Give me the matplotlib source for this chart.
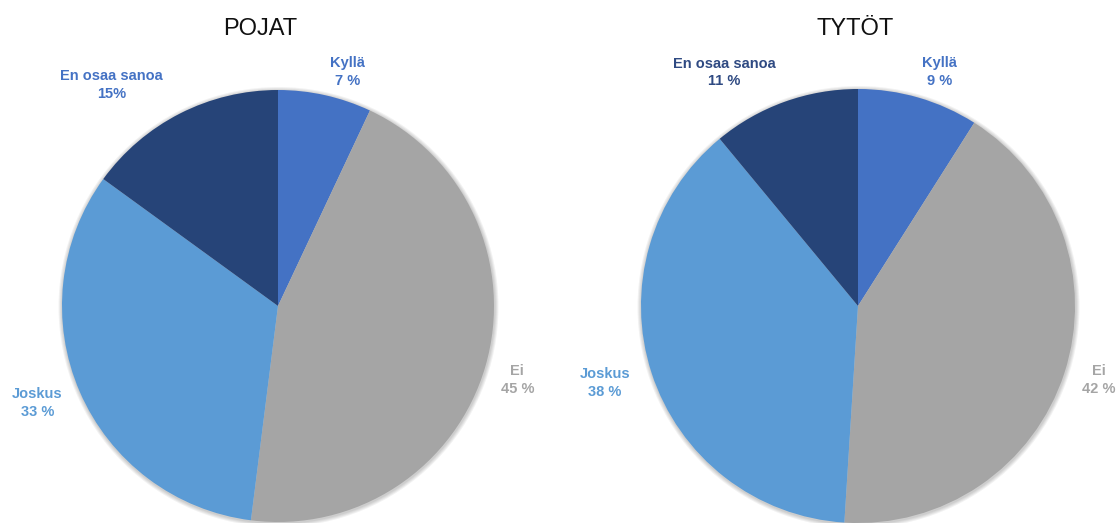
import numpy as np
import matplotlib.pyplot as plt
from matplotlib.patches import Circle

plt.rcParams['font.family'] = ['Liberation Sans', 'DejaVu Sans']

categories = ['Kyllä', 'Ei', 'Joskus', 'En osaa sanoa']
pojat = [7, 45, 33, 15]
tytot = [9, 42, 38, 11]
pojat_labels = ['7 %', '45 %', '33 %', '15%']
tytot_labels = ['9 %', '42 %', '38 %', '11 %']

slice_colors = ['#4472C4', '#A5A5A5', '#5B9BD5', '#264478']

W, H = 1116, 523
fig = plt.figure(figsize=(W / 100, H / 100), dpi=100)
ax = fig.add_axes([0, 0, 1, 1])


def draw_pie(values, pct_labels, cx, cy, r, title, title_x, label_colors, label_place):
    # soft halo under the pie
    for k in range(1, 5):
        ax.add_patch(Circle((cx + 0.5, cy - 1), r + k, color='black',
                            alpha=0.05, linewidth=0, zorder=0))
    ax.pie(values, colors=slice_colors, startangle=90, counterclock=False,
           center=(cx, cy), radius=r, frame=True,
           wedgeprops=dict(linewidth=0, zorder=1))
    total = sum(values)
    start = 90.0
    for i, v in enumerate(values):
        ang = start - v / total * 360 / 2
        start -= v / total * 360
        dist, shift = label_place[i]
        a = np.radians(ang + shift)
        ax.text(cx + dist * r * np.cos(a), cy + dist * r * np.sin(a),
                f'{categories[i]}\n{pct_labels[i]}', ha='center', va='center',
                fontsize=10.5, fontweight='bold', color=label_colors[i],
                linespacing=1.35)
    fig.text(title_x / W, 1 - 29 / H, title, ha='center', va='center',
             fontsize=17, color='#111111')


draw_pie(pojat, pojat_labels, 278, H - 306, 216, 'POJAT', 260,
         ['#4472C4', '#A5A5A5', '#5B9BD5', '#4472C4'],
         [(1.13, -4), (1.16, -1), (1.20, -1.5), (1.28, 10)])
draw_pie(tytot, tytot_labels, 858, H - 306, 217, 'TYTÖT', 855,
         ['#4472C4', '#A5A5A5', '#5B9BD5', '#2F4A82'],
         [(1.14, -3), (1.16, 1), (1.22, -1), (1.24, 10)])

ax.set_xlim(0, W)
ax.set_ylim(0, H)
ax.set_aspect('equal')
ax.axis('off')

fig.savefig('out.png', dpi=100, facecolor='white')
